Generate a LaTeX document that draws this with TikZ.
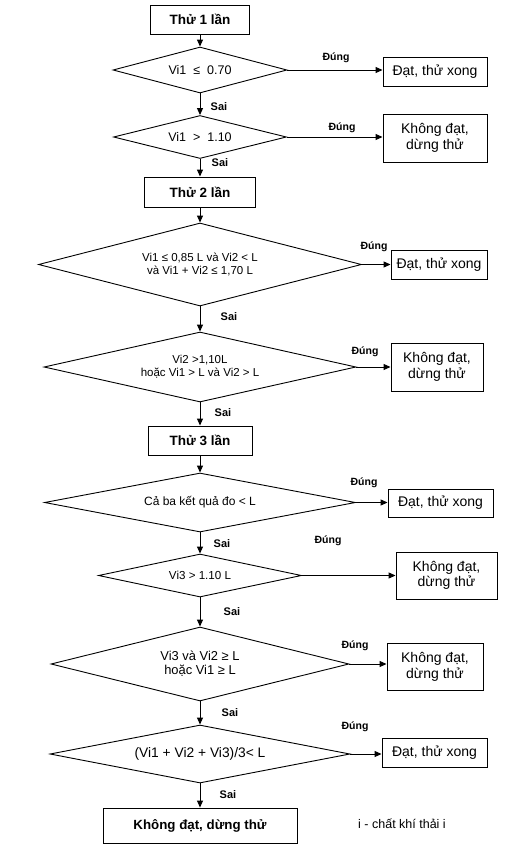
\documentclass[tikz,border=0pt]{standalone}
\usepackage{fontspec}
\setmainfont{Liberation Sans}
\usetikzlibrary{shapes.geometric,arrows.meta,calc}

\tikzset{
  box/.style 2 args={draw,line width=0.9pt,minimum width=#1,minimum height=#2,inner sep=1pt,align=center,font=\fontsize{14}{15.5}\selectfont},
  titlebox/.style 2 args={box={#1}{#2},font=\fontsize{13.5}{16}\selectfont\bfseries},
  decision/.style 2 args={draw,diamond,aspect=4,line width=0.9pt,minimum width=#1,minimum height=#2,inner sep=0pt,align=center,font=\fontsize{11.5}{13}\selectfont},
  yes/.style={inner sep=0pt,font=\fontsize{10.5}{12}\selectfont\bfseries},
  no/.style={inner sep=0pt,font=\fontsize{11}{12}\selectfont\bfseries},
  arr/.style={line width=1pt,-{Triangle[length=7pt,width=6pt]}},
}

\begin{document}
\begin{tikzpicture}[x=1pt,y=-1pt]
\useasboundingbox (0,0) rectangle (527,863);
% lan thu 1
\node[titlebox={99pt}{29pt}] (t1) at (200,19.5) {Thử 1 lần};
\node[decision={174pt}{46pt},font=\fontsize{12.5}{14}\selectfont] (d1) at (200,70) {Vi1\ \ ≤\ \ 0.70};
\node[box={104pt}{29pt}] (r1) at (435,72) {Đạt, thử xong};
\node[decision={173pt}{43pt},font=\fontsize{12.5}{14}\selectfont] (d2) at (200,137) {Vi1\ \ >\ \ 1.10};
\node[box={104pt}{48pt}] (r2) at (435,138) {Không đạt,\\dừng thử};
% lan thu 2
\node[titlebox={111pt}{30pt}] (t2) at (200,192) {Thử 2 lần};
\node[decision={323pt}{83pt}] (d3) at (200,264.5) {Vi1 ≤ 0,85 L và Vi2 < L\\và Vi1 + Vi2 ≤ 1,70 L};
\node[box={96pt}{29pt}] (r3) at (439,264.5) {Đạt, thử xong};
\node[decision={312pt}{70pt}] (d4) at (200,367) {Vi2 >1,10L\\hoặc Vi1 > L và Vi2 > L};
\node[box={92pt}{48pt}] (r4) at (437,367) {Không đạt,\\dừng thử};
% lan thu 3
\node[titlebox={104pt}{29pt}] (t3) at (200,440.5) {Thử 3 lần};
\node[decision={311pt}{59pt},font=\fontsize{12}{13}\selectfont] (d5) at (200,502.5) {Cả ba kết quả đo < L};
\node[box={105pt}{28pt}] (r5) at (440.5,503) {Đạt, thử xong};
\node[decision={203pt}{43pt},font=\fontsize{11.6}{13}\selectfont] (d6) at (200,575.5) {Vi3 > 1.10 L};
\node[box={101pt}{47pt}] (r6) at (446.5,575.5) {Không đạt,\\dừng thử};
\node[decision={298pt}{74pt},font=\fontsize{12.9}{14}\selectfont] (d7) at (200,664) {Vi3 và Vi2 ≥ L\\hoặc Vi1 ≥ L};
\node[box={96pt}{47pt}] (r7) at (435,667) {Không đạt,\\dừng thử};
\node[decision={300pt}{58pt},font=\fontsize{13.8}{15}\selectfont] (d8) at (200,754) {(Vi1 + Vi2 + Vi3)/3< L};
\node[box={105pt}{29pt}] (r8) at (434.5,752.5) {Đạt, thử xong};
\node[titlebox={194pt}{35pt},font=\fontsize{13.3}{15}\selectfont\bfseries] (fin) at (200,825.5) {Không đạt, dừng thử};
\node[inner sep=0pt,font=\fontsize{12.5}{14}\selectfont] (note) at (402,824) {i - chất khí thải i};

% duong xuong
\draw[arr] (t1.south) -- (d1.north);
\draw[arr] (d1.south) -- (d2.north);
\draw[arr] (d2.south) -- (t2.north);
\draw[arr] (t2.south) -- (d3.north);
\draw[arr] (d3.south) -- (d4.north);
\draw[arr] (d4.south) -- (t3.north);
\draw[arr] (t3.south) -- (d5.north);
\draw[arr] (d5.south) -- (d6.north);
\draw[arr] (d6.south) -- (d7.north);
\draw[arr] (d7.south) -- (d8.north);
\draw[arr] (d8.south) -- (fin.north);
% duong sang phai
\draw[arr] (d1.east) -- (d1.east -| r1.west);
\draw[arr] (d2.east) -- (d2.east -| r2.west);
\draw[arr] (d3.east) -- (d3.east -| r3.west);
\draw[arr] (d4.east) -- (d4.east -| r4.west);
\draw[arr] (d5.east) -- (d5.east -| r5.west);
\draw[arr] (d6.east) -- (d6.east -| r6.west);
\draw[arr] (d7.east) -- (d7.east -| r7.west);
\draw[arr] (d8.east) -- (d8.east -| r8.west);

% nhan
\node[yes] (y1) at (336,58) {Đúng};
\node[yes] (y2) at (342,128) {Đúng};
\node[yes] (y3) at (374,247) {Đúng};
\node[yes] (y4) at (365,352) {Đúng};
\node[yes] (y5) at (364,483) {Đúng};
\node[yes] (y6) at (328,541) {Đúng};
\node[yes] (y7) at (355,646) {Đúng};
\node[yes] (y8) at (355,727) {Đúng};
\node[no] (n1) at (219,107) {Sai};
\node[no] (n2) at (220,163) {Sai};
\node[no] (n3) at (229,317) {Sai};
\node[no] (n4) at (223,413) {Sai};
\node[no] (n5) at (222,544) {Sai};
\node[no] (n6) at (232,612) {Sai};
\node[no] (n7) at (230,713) {Sai};
\node[no] (n8) at (228,795) {Sai};
\end{tikzpicture}
\end{document}
